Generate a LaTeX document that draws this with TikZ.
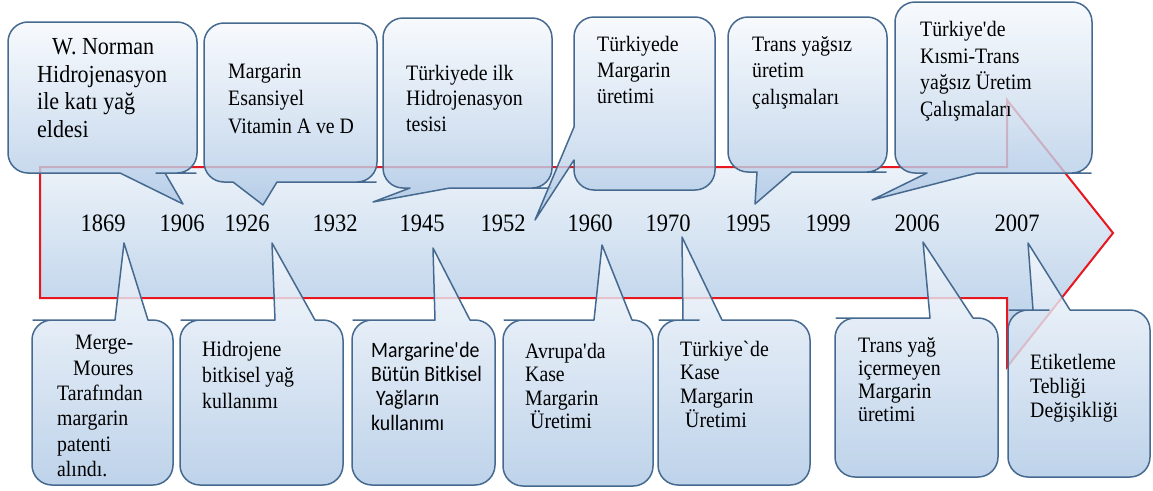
\documentclass[tikz,border=0pt]{standalone}
\usepackage{fontspec}
\setmainfont{Liberation Serif}[FakeStretch=0.9]
\newfontfamily\calibrifont{Carlito}[FakeStretch=0.9]
\definecolor{edgeblue}{HTML}{46698F}
\definecolor{cTop}{HTML}{F6F9FD}
\definecolor{cBot}{HTML}{AEC8E5}
\definecolor{aTop}{HTML}{FFFFFF}
\definecolor{aBot}{HTML}{B0CAE6}
\definecolor{arrowred}{HTML}{E8161E}
% L T R B x1 x2 tipx tipy : pointer on the bottom edge
\newcommand\TopCallout[8]{%
  \path[callout] (#1,{(#2+#4)/2}) [rounded corners=20pt] -- (#1,#2) -- (#3,#2) -- (#3,#4) -- ({#3-21},#4)
    [sharp corners] -- (#6,#4) -- (#7,#8) -- (#5,#4) -- ({#1+21},#4)
    [rounded corners=20pt] -- (#1,#4) -- cycle;}
% L T R B x1 x2 tipx tipy : pointer on the top edge
\newcommand\BotCallout[8]{%
  \path[callout] (#1,{(#2+#4)/2}) [rounded corners=20pt] -- (#1,#2) -- ({#1+21},#2)
    [sharp corners] -- (#5,#2) -- (#7,#8) -- (#6,#2) -- ({#3-21},#2)
    [rounded corners=20pt] -- (#3,#2) -- (#3,#4) -- (#1,#4) -- cycle;}
\newcommand\sq{\textquotesingle}
\begin{document}
\begin{tikzpicture}[x=1pt,y=-1pt,
  callout/.style={draw=edgeblue, line width=1.5pt, top color=cTop, bottom color=cBot, fill opacity=0.8, line join=round},
  arrowbody/.style={draw=arrowred, line width=2pt, top color=aTop, bottom color=aBot, line join=miter},
  ctext/.style={anchor=north west, align=left, inner sep=0pt},
  year/.style={anchor=base, inner sep=0pt, font=\fontsize{25}{30}\selectfont}
]
\fill[white] (0,0) rectangle (1153,490);
\useasboundingbox (0,0) rectangle (1153,490);

% big arrow
\path[arrowbody] (40,167) -- (1007,167) -- (1007,100) -- (1113,233) -- (1007,367) -- (1007,298) -- (40,298) -- cycle;

% top callouts
\TopCallout{8}{22}{197}{173}{120}{165}{183}{204}
\TopCallout{204}{23}{377}{182}{233}{277}{263}{205}
\TopCallout{383}{18}{552}{188}{410}{450}{373}{202}
\path[callout] (715,100) [rounded corners=20pt] -- (715,17) -- (574,17) -- (574,100)
    [sharp corners] -- (574,127) -- (535,220) -- (574,160) -- (574,166)
    [rounded corners=20pt] -- (574,190) -- (715,190) -- cycle;
\TopCallout{728}{17}{887}{172}{757}{792}{755}{204}
\TopCallout{895}{2}{1092}{173}{927}{977}{872}{200}

% bottom callouts
\BotCallout{32}{320}{173}{485}{115}{148}{124}{243}
\BotCallout{180}{320}{343}{485}{275}{315}{272}{243}
\BotCallout{352}{320}{495}{485}{435}{470}{433}{248}
\BotCallout{503}{320}{653}{486}{594}{632}{602}{245}
\BotCallout{658}{320}{810}{485}{683}{722}{682}{237}
\BotCallout{835}{318}{998}{477}{930}{973}{923}{242}
\BotCallout{1008}{310}{1150}{477}{1033}{1070}{1028}{243}

% years
\node[year] (y1869) at (103,231.5) {1869};
\node[year] (y1906) at (182,231.5) {1906};
\node[year] (y1926) at (247,231.5) {1926};
\node[year] (y1932) at (335,231.5) {1932};
\node[year] (y1945) at (422,231.5) {1945};
\node[year] (y1952) at (503,231.5) {1952};
\node[year] (y1960) at (590,231.5) {1960};
\node[year] (y1970) at (668,231.5) {1970};
\node[year] (y1995) at (748,231.5) {1995};
\node[year] (y1999) at (828,231.5) {1999};
\node[year] (y2006) at (917,231.5) {2006};
\node[year] (y2007) at (1017,231.5) {2007};

% top texts
\node[ctext, font=\fontsize{24.5}{27.5}\selectfont] (t1) at (37,{54.5-0.7*27.5})
  {\strut\hspace*{15pt}W. Norman\\Hidrojenasyon\\ile katı yağ\\eldesi};
\node[ctext, font=\fontsize{22}{27.5}\selectfont] (t2) at (228,{78-0.7*27.5})
  {\strut Margarin\\Esansiyel\\Vitamin A ve D};
\node[ctext, font=\fontsize{22}{25.7}\selectfont] (t3) at (406,{80-0.7*25.7})
  {\strut Türkiyede ilk\\Hidrojenasyon\\tesisi};
\node[ctext, font=\fontsize{22}{26}\selectfont] (t4) at (597,{51-0.7*26})
  {\strut Türkiyede\\Margarin\\üretimi};
\node[ctext, font=\fontsize{22}{26.5}\selectfont] (t5) at (752,{51-0.7*26.5})
  {\strut Trans yağsız\\üretim\\çalışmaları};
\node[ctext, font=\fontsize{22}{26.7}\selectfont] (t6) at (920,{36.3-0.7*26.7})
  {\strut Türkiye\sq de\\Kısmi-Trans\\yağsız Üretim\\Çalışmaları};

% bottom texts
\node[ctext, font=\fontsize{22}{25.3}\selectfont] (b1) at (57,{349.6-0.7*25.3})
  {\strut\hspace*{18pt}Merge-\\\hspace*{16pt}Moures\\Tarafından\\margarin\\patenti\\alındı.};
\node[ctext, font=\fontsize{22}{26}\selectfont] (b2) at (202,{356-0.7*26})
  {\strut Hidrojene\\bitkisel yağ\\kullanımı};
\node[ctext, font=\calibrifont\fontsize{22}{24.3}\selectfont] (b3) at (371,{357-0.7*24.3})
  {\strut Margarine\sq de\\Bütün Bitkisel\\\hspace*{5pt}Yağların\\kullanımı};
\node[ctext, font=\fontsize{22}{23.5}\selectfont] (b4) at (525,{358-0.7*23.5})
  {\strut Avrupa\sq da\\Kase\\Margarin\\\hspace*{5pt}Üretimi};
\node[ctext, font=\fontsize{22}{23.7}\selectfont] (b5) at (680,{356-0.7*23.7})
  {\strut Türkiye\textasciigrave de\\Kase\\Margarin\\\hspace*{5pt}Üretimi};
\node[ctext, font=\fontsize{22}{23}\selectfont] (b6) at (858,{352.6-0.7*23})
  {\strut Trans yağ\\içermeyen\\Margarin\\üretimi};
\node[ctext, font=\fontsize{22}{24}\selectfont] (b7) at (1030,{369.6-0.7*24})
  {\strut Etiketleme\\Tebliği\\Değişikliği};
\end{tikzpicture}
\end{document}
